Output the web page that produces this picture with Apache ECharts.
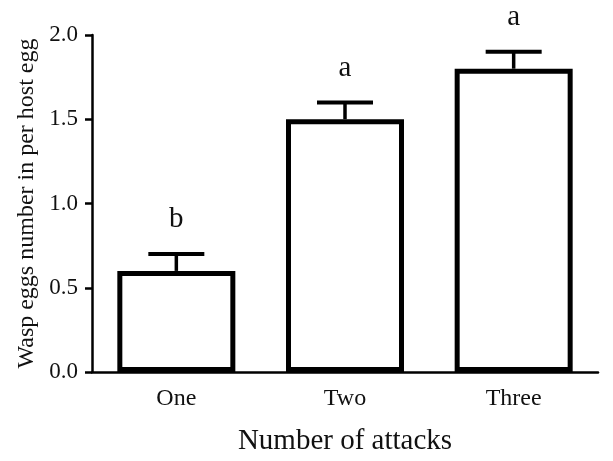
<!DOCTYPE html>
<html>
<head>
<meta charset="utf-8">
<script src="https://cdn.jsdelivr.net/npm/echarts@6/dist/echarts.min.js"></script>
<style>html,body{margin:0;padding:0;background:#fff}#c{width:613px;height:461px}</style>
</head>
<body>
<div id="c"></div>
<script>
var categories = ['One', 'Two', 'Three'];
var means = [0.6, 1.5, 1.8];
var errors = [0.1, 0.1, 0.1];
var letters = ['b', 'a', 'a'];
var yTicks = [0, 0.5, 1.0, 1.5, 2.0];

var FONT = '"Liberation Serif", "Times New Roman", serif';
var chart = echarts.init(document.getElementById('c'), null, {renderer: 'canvas'});

var errData = categories.map(function (c, i) { return [i, means[i], errors[i], letters[i]]; });

chart.setOption({
  animation: false,
  backgroundColor: '#fff',
  grid: {left: 92, right: 15, top: 35, bottom: 84},
  xAxis: {
    type: 'category',
    data: categories,
    name: 'Number of attacks',
    nameLocation: 'middle',
    nameGap: 55,
    nameTextStyle: {fontFamily: FONT, fontSize: 29, color: '#111'},
    axisLine: {lineStyle: {color: '#000', width: 2.5}},
    axisTick: {alignWithLabel: true, length: 7, lineStyle: {color: '#000', width: 2.5}},
    axisLabel: {fontFamily: FONT, fontSize: 24, color: '#111', margin: 15}
  },
  yAxis: {
    type: 'value',
    min: 0, max: 2, interval: 0.5,
    name: 'Wasp eggs number in per host egg',
    nameLocation: 'middle',
    nameGap: 52,
    nameTextStyle: {fontFamily: FONT, fontSize: 24, color: '#111'},
    axisLine: {show: true, lineStyle: {color: '#000', width: 2.5}},
    axisTick: {show: true, length: 7, lineStyle: {color: '#000', width: 2.5}},
    splitLine: {show: false},
    axisLabel: {fontFamily: FONT, fontSize: 23, color: '#111', margin: 14,
      formatter: function (v) { return v.toFixed(1); }}
  },
  series: [
    {
      type: 'bar',
      data: means,
      barWidth: 118,
      itemStyle: {color: '#fff', borderColor: '#000', borderWidth: 5},
      z: 2
    },
    {
      type: 'custom',
      data: errData,
      z: 1,
      renderItem: function (params, api) {
        var i = api.value(0), m = api.value(1), e = api.value(2);
        var base = api.coord([i, m]);
        var top = api.coord([i, m + e]);
        var hw = 28;
        var lt = errData[params.dataIndex][3];
        return {
          type: 'group',
          children: [
            {type: 'line', shape: {x1: base[0], y1: base[1], x2: top[0], y2: top[1]},
             style: {stroke: '#000', lineWidth: 3.5}},
            {type: 'line', shape: {x1: top[0] - hw, y1: top[1], x2: top[0] + hw, y2: top[1]},
             style: {stroke: '#000', lineWidth: 4}},
            {type: 'text', x: top[0], y: top[1] - 20,
             style: {text: lt, fontFamily: FONT, fontSize: 29, fill: '#111',
                     textAlign: 'center', textVerticalAlign: 'bottom'}}
          ]
        };
      }
    }
  ]
});
</script>
</body>
</html>
